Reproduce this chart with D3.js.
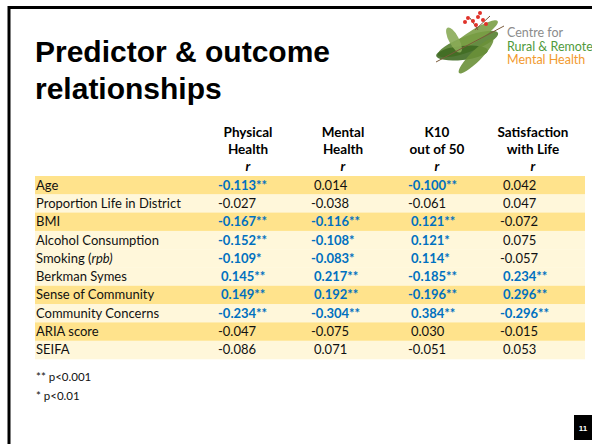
<!DOCTYPE html>
<html>
<head>
<meta charset="utf-8">
<script src="https://cdn.jsdelivr.net/npm/d3@7"></script>
<style>
  body { margin: 0; background: #fff; }
  svg { display: block; }
</style>
</head>
<body>
<div id="vis"></div>
<script>
// slide data
let predictors = ['Age', 'Proportion Life in District', 'BMI', 'Alcohol Consumption', 'Smoking (rpb)',
  'Berkman Symes', 'Sense of Community', 'Community Concerns', 'ARIA score', 'SEIFA'];
let outcomes = ['Physical Health', 'Mental Health', 'K10 out of 50', 'Satisfaction with Life'];
let headerLines = [['Physical', 'Health'], ['Mental', 'Health'], ['K10', 'out of 50'], ['Satisfaction', 'with Life']];

let physical = [-0.113, -0.027, -0.167, -0.152, -0.109, 0.145, 0.149, -0.234, -0.047, -0.086];
let mental = [0.014, -0.038, -0.116, -0.108, -0.083, 0.217, 0.192, -0.304, -0.075, 0.071];
let k10 = [-0.100, -0.061, 0.121, 0.121, 0.114, -0.185, -0.196, 0.384, 0.030, -0.051];
let satisfaction = [0.042, 0.047, -0.072, 0.075, -0.057, 0.234, 0.296, -0.296, -0.015, 0.053];

let physicalSig = ['**', '', '**', '**', '*', '**', '**', '**', '', ''];
let mentalSig = ['', '', '**', '*', '*', '**', '**', '**', '', ''];
let k10Sig = ['**', '', '**', '*', '*', '**', '**', '**', '', ''];
let satisfactionSig = ['', '', '', '', '', '**', '**', '**', '', ''];

let footnotes = ['** p<0.001', '* p<0.01'];
let logoLines = ['Centre for', 'Rural & Remote', 'Mental Health'];

let W = 592, H = 444;
let svg = d3.select('#vis').append('svg')
  .attr('width', W).attr('height', H)
  .attr('viewBox', [0, 0, W, H].join(' '));

// slide frame
svg.append('line').attr('x1', 9).attr('y1', 7.5).attr('x2', W).attr('y2', 7.5)
  .attr('stroke', '#000').attr('stroke-width', 3);
svg.append('line').attr('x1', 9).attr('y1', 6).attr('x2', 9).attr('y2', H)
  .attr('stroke', '#000').attr('stroke-width', 3);

// title
let title = svg.append('text')
  .attr('font-family', 'Liberation Sans, Arial, sans-serif')
  .attr('font-weight', 'bold').attr('font-size', 30).attr('fill', '#000');
title.append('tspan').attr('x', 35).attr('y', 62).text('Predictor & outcome');
title.append('tspan').attr('x', 35).attr('y', 99).text('relationships');

// logo (leaves + text)
let logo = svg.append('g').attr('transform', 'translate(470,44)');
let leaves = [
  { cx: -2, cy: 0, rx: 32, ry: 8, rot: -20, fill: '#55802f' },
  { cx: 4, cy: -8, rx: 28, ry: 6, rot: -32, fill: '#7a9e45' },
  { cx: -8, cy: 9, rx: 26, ry: 7, rot: -6, fill: '#3f6a22' },
  { cx: 6, cy: 12, rx: 24, ry: 5.5, rot: -45, fill: '#6a9038' },
  { cx: -16, cy: -4, rx: 14, ry: 5, rot: 62, fill: '#8aab58' }
];
logo.selectAll('ellipse').data(leaves).join('ellipse')
  .attr('cx', d => d.cx).attr('cy', d => d.cy)
  .attr('rx', d => d.rx).attr('ry', d => d.ry)
  .attr('transform', d => `rotate(${d.rot},${d.cx},${d.cy})`)
  .attr('fill', d => d.fill).attr('opacity', 0.9);
logo.append('path').attr('d', 'M-34,18 L34,-18 M5,-14 L20,-28 M8,-14 L0,-26')
  .attr('stroke', '#7a5a3a').attr('stroke-width', 1).attr('fill', 'none');
let berries = [[-2, -26], [3, -23], [8, -27], [13, -24], [-5, -22], [16, -20], [6, -19], [10, -31]];
logo.selectAll('circle').data(berries).join('circle')
  .attr('cx', d => d[0]).attr('cy', d => d[1]).attr('r', 2)
  .attr('fill', '#e0322a');

svg.append('g').attr('font-family', 'Lato, Open Sans, sans-serif').attr('font-size', 12.5)
  .selectAll('text').data(logoLines).join('text')
  .attr('x', 507).attr('y', (d, i) => 37 + i * 13.5)
  .attr('fill', (d, i) => ['#8c8c8c', '#4f9a3c', '#f29a2e'][i])
  .text(d => d);

// table scales
let y = d3.scaleBand().domain(predictors).range([176, 359]).padding(0);
let xHead = d3.scaleOrdinal().domain(outcomes).range([248, 343, 437, 533]);
let xVal = d3.scaleOrdinal().domain(outcomes).range([218, 311, 408, 500]);

let tableFont = 'Lato, Open Sans, sans-serif';
let series = [
  { name: outcomes[0], vals: physical, sig: physicalSig },
  { name: outcomes[1], vals: mental, sig: mentalSig },
  { name: outcomes[2], vals: k10, sig: k10Sig },
  { name: outcomes[3], vals: satisfaction, sig: satisfactionSig }
];

// row bands
svg.append('g').selectAll('rect').data(predictors).join('rect')
  .attr('x', 35).attr('width', 585 - 35)
  .attr('y', d => y(d)).attr('height', y.bandwidth() + 0.3)
  .attr('fill', (d, i) => i === 0 || i === 2 || i === 6 || i === 8 ? '#ffe38c' : '#fff7da');

// headers
let head = svg.append('g').attr('font-family', tableFont).attr('font-weight', 'bold')
  .attr('font-size', 13.5).attr('text-anchor', 'middle').attr('fill', '#000');
outcomes.forEach((o, j) => {
  let t = head.append('text').attr('x', xHead(o));
  headerLines[j].forEach((line, k) => {
    t.append('tspan').attr('x', xHead(o)).attr('y', 137 + k * 17).text(line);
  });
  t.append('tspan').attr('x', xHead(o)).attr('y', 171).attr('font-style', 'italic').text('r');
});

// row labels
let labels = svg.append('g').attr('font-family', tableFont).attr('font-size', 13).attr('fill', '#111');
labels.selectAll('text').data(predictors).join('text')
  .attr('x', 36).attr('y', d => y(d) + y.bandwidth() / 2 + 4.5)
  .each(function (d) {
    let t = d3.select(this);
    if (d === 'Smoking (rpb)') {
      t.append('tspan').text('Smoking (');
      t.append('tspan').attr('font-style', 'italic').text('rpb)');
    } else {
      t.text(d);
    }
  });

// cells
series.forEach(s => {
  svg.append('g').attr('font-family', tableFont).attr('font-size', 13)
    .selectAll('text').data(s.vals).join('text')
    .attr('x', d => xVal(s.name) + (d >= 0 ? 3 : 0))
    .attr('y', (d, i) => y(predictors[i]) + y.bandwidth() / 2 + 4.5)
    .attr('fill', (d, i) => s.sig[i] ? '#0070c0' : '#111')
    .attr('font-weight', (d, i) => s.sig[i] ? 'bold' : 'normal')
    .text((d, i) => d.toFixed(3) + s.sig[i]);
});

// footnotes
svg.append('g').attr('font-family', tableFont).attr('font-size', 11.5).attr('fill', '#111')
  .selectAll('text').data(footnotes).join('text')
  .attr('x', 36).attr('y', (d, i) => 381 + i * 19)
  .text(d => d);

// page number
svg.append('rect').attr('x', 574).attr('y', 415).attr('width', 18).attr('height', 25).attr('fill', '#000');
svg.append('text').attr('x', 583).attr('y', 431).attr('text-anchor', 'middle')
  .attr('font-family', 'Liberation Sans, Arial, sans-serif').attr('font-weight', 'bold')
  .attr('font-size', 8).attr('fill', '#fff').text('11');
</script>
</body>
</html>
